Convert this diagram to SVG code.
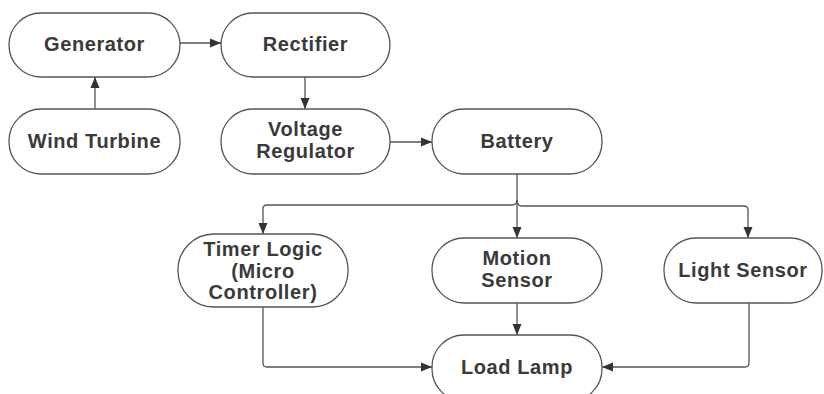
<svg xmlns="http://www.w3.org/2000/svg" width="824" height="394" viewBox="0 0 824 394">
<style>
.n{fill:#fff;stroke:#555;stroke-width:1.3}
.t{font-family:"Liberation Sans",Arial,sans-serif;font-weight:bold;font-size:20px;letter-spacing:0.6px;fill:#3a3a3a;text-anchor:middle}
.c{fill:none;stroke:#555;stroke-width:1.3}
</style>
<defs>
<marker id="a" viewBox="0 0 11 10" refX="11" refY="5" markerWidth="11" markerHeight="10" markerUnits="userSpaceOnUse" orient="auto">
<path d="M0,0.5 L11,5 L0,9.5 Z" fill="#333"/>
</marker>
</defs>
<rect width="824" height="394" fill="#fff"/>
<g id="connectors">
<path class="c" d="M180,43 H221" marker-end="url(#a)"/>
<path class="c" d="M95,109 V77" marker-end="url(#a)"/>
<path class="c" d="M305,77 V109" marker-end="url(#a)"/>
<path class="c" d="M390,142 H432" marker-end="url(#a)"/>
<path class="c" d="M517,174 V238" marker-end="url(#a)"/>
<path class="c" d="M517,200 Q517,205 512,205 H267 Q263,205 263,209 V234" marker-end="url(#a)"/>
<path class="c" d="M517,200 Q517,206 522,206 H744 Q748,206 748,210 V238" marker-end="url(#a)"/>
<path class="c" d="M517,303 V335" marker-end="url(#a)"/>
<path class="c" d="M263,307 V363 Q263,367 267,367 H432" marker-end="url(#a)"/>
<path class="c" d="M749,303 V363 Q749,367 745,367 H602" marker-end="url(#a)"/>
</g>
<g id="generator"><rect class="n" x="9" y="13" width="171" height="64" rx="32"/><text class="t" x="94.5" y="51">Generator</text></g>
<g id="rectifier"><rect class="n" x="221" y="13" width="169" height="64" rx="32"/><text class="t" x="305.5" y="51">Rectifier</text></g>
<g id="wind-turbine"><rect class="n" x="9" y="109" width="171" height="65" rx="32"/><text class="t" x="94.5" y="148">Wind Turbine</text></g>
<g id="voltage-regulator"><rect class="n" x="221" y="109" width="169" height="65" rx="32"/><text class="t" x="305.5" y="136">Voltage</text><text class="t" x="305.5" y="158">Regulator</text></g>
<g id="battery"><rect class="n" x="432" y="109" width="170" height="65" rx="32"/><text class="t" x="517" y="148">Battery</text></g>
<g id="timer-logic"><rect class="n" x="178" y="234" width="170" height="73" rx="36"/><text class="t" x="263" y="256">Timer Logic</text><text class="t" x="263" y="278">(Micro</text><text class="t" x="263" y="299">Controller)</text></g>
<g id="motion-sensor"><rect class="n" x="432" y="238" width="170" height="65" rx="32"/><text class="t" x="517" y="265">Motion</text><text class="t" x="517" y="287">Sensor</text></g>
<g id="light-sensor"><rect class="n" x="664" y="238" width="158" height="65" rx="32"/><text class="t" x="743" y="277">Light Sensor</text></g>
<g id="load-lamp"><rect class="n" x="432" y="335" width="170" height="66" rx="32"/><text class="t" x="517" y="374">Load Lamp</text></g>
</svg>
